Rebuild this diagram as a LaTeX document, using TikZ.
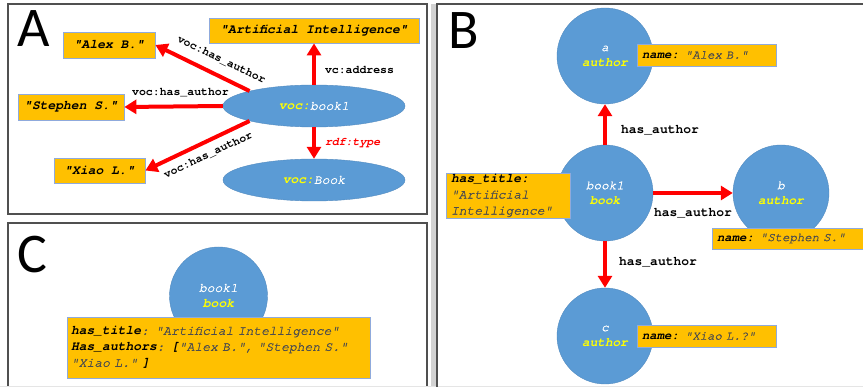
\documentclass[tikz,border=0pt]{standalone}
\usepackage{fontspec}
\setmonofont{texgyrecursor}[Extension=.otf,UprightFont=*-regular,BoldFont=*-bold,ItalicFont=*-italic,BoldItalicFont=*-bolditalic,UprightFeatures={FakeBold=1.2},ItalicFeatures={FakeBold=1.2}]
\renewcommand\familydefault{\ttdefault}
\newfontfamily\letterfont{Carlito}
\usetikzlibrary{shapes.geometric,arrows.meta}
\definecolor{boxorange}{HTML}{FFC000}
\definecolor{boxedge}{HTML}{8FAADC}
\definecolor{nodeblue}{HTML}{5B9BD5}
\definecolor{framegray}{HTML}{505050}
\definecolor{valgray}{HTML}{4D4D4D}
\definecolor{hiyellow}{HTML}{FFFF00}
\definecolor{arrowred}{HTML}{FF0000}
\newcommand\keyw[1]{{\color{black}\bfseries\itshape #1}}
\newcommand\valw[1]{{\color{valgray}\itshape #1}}
\newcommand\yel[1]{{\color{hiyellow}\bfseries\itshape #1}}
\newcommand\wht[1]{{\color{white}\itshape #1}}
\begin{document}
\begin{tikzpicture}[x=1pt,y=-1pt,
 panel/.style={draw=framegray,line width=1.3pt},
 letter/.style={font=\letterfont\fontsize{56}{56}\selectfont,inner sep=0pt},
 obox/.style={draw=boxedge,fill=boxorange,line width=0.8pt,inner sep=0pt},
 aval/.style={obox,font=\ttfamily\fontsize{13}{14}\selectfont\bfseries\itshape},
 blob/.style={ellipse,fill=nodeblue,draw=nodeblue!90!black,line width=0.4pt,minimum width=182pt,minimum height=42pt,inner sep=0pt,font=\ttfamily\fontsize{13}{14}\selectfont},
 disc/.style={circle,fill=nodeblue,draw=nodeblue!90!black,line width=0.4pt,minimum size=96pt,inner sep=0pt,align=center,font=\ttfamily\fontsize{12.7}{15}\selectfont},
 rel/.style={draw=arrowred,line width=4pt,-{Triangle[width=14pt,length=12pt]}},
 elab/.style={font=\ttfamily\fontsize{11.5}{12}\selectfont\bfseries,inner sep=1pt},
 blab/.style={font=\ttfamily\fontsize{13}{14}\selectfont\bfseries,inner sep=1pt},
 bbox/.style={obox,inner xsep=5pt,align=left,font=\ttfamily\fontsize{12.3}{14}\selectfont}
]
\useasboundingbox (0,0) rectangle (863,387);
\fill[white] (0,0) rectangle (863,387);
% panel frames
\draw[gray!35,line width=5pt] (433,4) -- (433,387);
\draw[panel] (8,4) rectangle (427,214);
\draw[panel] (8,387) -- (8,223) -- (427,223) -- (427,387);
\draw[gray!20,line width=0.8pt] (0,386.6) -- (863,386.6);
\draw[panel] (437,387) -- (437,4) -- (864,4);

% ---------- Panel A ----------
\node[letter] (la) at (34,28.5) {A};
\node[aval,minimum width=92pt,minimum height=26pt] (alex) at (109,45) {"Alex B."};
\node[aval,minimum width=210pt,minimum height=25pt] (ai) at (314,30.5) {"Artificial Intelligence"};
\node[aval,minimum width=106pt,minimum height=26pt] (steph) at (71,107) {"Stephen S."};
\node[aval,minimum width=91pt,minimum height=25pt] (xiao) at (99.5,170.5) {"Xiao L."};
\node[blob] (book1) at (314,106) {\yel{voc:}\wht{book1}};
\node[blob] (bookcls) at (314,180) {\yel{voc:}\wht{Book}};

\draw[rel] (book1.north west) -- node[elab,sloped,above=8pt,pos=0.37]{voc:has\_author} (alex.east);
\draw[rel] (book1.west) -- node[elab,above=6pt,pos=0.43]{voc:has\_author} (steph.east);
\draw[rel] (book1.south west) -- node[elab,sloped,below=6pt,pos=0.45]{voc:has\_author} (xiao.east);
\draw[rel] (book1.north) -- node[elab,right=8pt,pos=0.36]{vc:address} (ai.south);
\draw[rel] (book1.south) -- node[elab,right=8pt,pos=0.5,text=arrowred,font=\ttfamily\fontsize{11.5}{12}\selectfont\bfseries\itshape]{rdf:type} (bookcls.north);

% ---------- Panel B ----------
\node[letter] (lb) at (463.5,30.5) {B};
\node[disc] (ba) at (605,56) {\wht{a}\\\yel{author}};
\node[disc] (bbook) at (605,193) {\wht{book1}\\\yel{book}};
\node[disc] (bb) at (781,193) {\wht{b}\\\yel{author}};
\node[disc] (bc) at (605,336) {\wht{c}\\\yel{author}};
\node[bbox,text width=129pt,minimum height=22pt] (na) at (706.5,55) {\keyw{name:} \valw{"Alex B."}};
\node[bbox,text width=142pt,minimum height=21pt] (nb) at (788,238.5) {\keyw{name:} \valw{"Stephen S."}};
\node[bbox,text width=129pt,minimum height=22pt] (nc) at (706.5,336) {\keyw{name:} \valw{"Xiao L.?"}};
\node[bbox,text width=114pt,minimum height=45pt,font=\ttfamily\fontsize{13}{16}\selectfont] (bt) at (508,195.5) {\keyw{has\_title:}\\\valw{"Artificial}\\\valw{Intelligence"}};

\draw[rel] (bbook.north) -- node[blab,right=13pt,pos=0.36]{has\_author} (ba.south);
\draw[rel] (bbook.east) -- node[blab,below=12pt,pos=0.5]{has\_author} (bb.west);
\draw[rel] (bbook.south) -- node[blab,right=11pt,pos=0.45]{has\_author} (bc.north);

% ---------- Panel C ----------
\node[letter] (lc) at (32.5,254.5) {C};
\node[disc,minimum size=98pt,font=\ttfamily\fontsize{13}{16}\selectfont] (cbook) at (218.5,296) {\wht{book1}\\\yel{book}};
\node[obox,text width=295pt,inner xsep=4pt,minimum height=61pt,align=left,font=\ttfamily\fontsize{13}{16}\selectfont] (cbox) at (218.5,347.5)
 {\keyw{has\_title}\valw{:} \valw{"Artificial Intelligence"}\\
  \keyw{Has\_authors}\valw{:} \keyw{[}\valw{"Alex B.", "Stephen S."}\\
  \valw{"Xiao L."} \keyw{]}};
\end{tikzpicture}
\end{document}
